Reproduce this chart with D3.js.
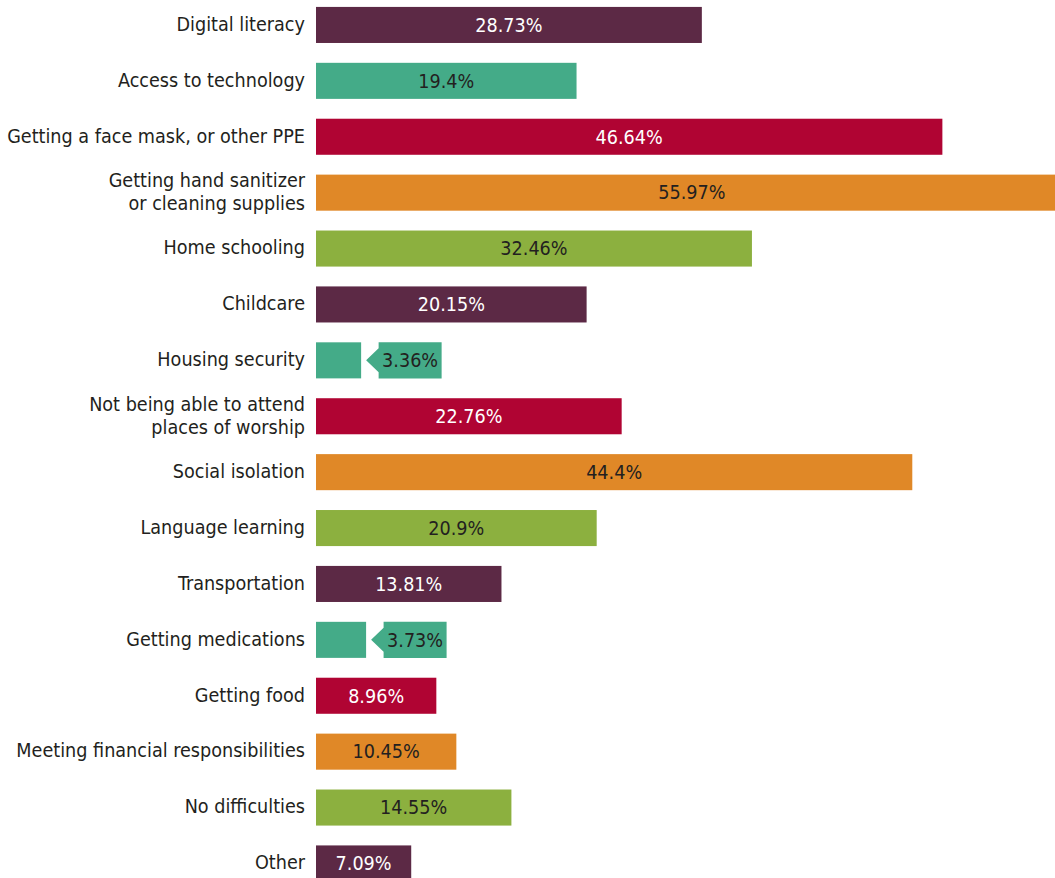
<!DOCTYPE html>
<html>
<head>
<meta charset="utf-8">
<script src="https://cdn.jsdelivr.net/npm/d3@7"></script>
<style>
  body { margin: 0; background: #fff; }
  svg { display: block; font-family: "DejaVu Sans Condensed", "Liberation Sans Narrow", sans-serif; }
</style>
</head>
<body>
<script>
// data
var categories = [
  "Digital literacy",
  "Access to technology",
  "Getting a face mask, or other PPE",
  "Getting hand sanitizer|or cleaning supplies",
  "Home schooling",
  "Childcare",
  "Housing security",
  "Not being able to attend|places of worship",
  "Social isolation",
  "Language learning",
  "Transportation",
  "Getting medications",
  "Getting food",
  "Meeting financial responsibilities",
  "No difficulties",
  "Other"
];
var values = [28.73, 19.4, 46.64, 55.97, 32.46, 20.15, 3.36, 22.76, 44.4, 20.9, 13.81, 3.73, 8.96, 10.45, 14.55, 7.09];
var palette = ["#5c2945", "#44ab88", "#b00433", "#e08827", "#8cb03f"];
var lightText = ["#5c2945", "#b00433"];

var width = 1055, height = 878;
var left = 316;

var svg = d3.select("body").append("svg")
  .attr("width", width).attr("height", height);

var x = d3.scaleLinear().domain([0, 1]).range([left, left + 13.43]);

var y = d3.scaleBand()
  .domain(d3.range(categories.length))
  .range([-3, -3 + 55.9 * categories.length])
  .paddingInner(0.355)
  .paddingOuter(0.1775);

var row = svg.selectAll("g.row")
  .data(values)
  .enter().append("g")
  .attr("class", "row")
  .attr("transform", function (d, i) { return "translate(0," + y(i) + ")"; });

var bh = y.bandwidth();

row.append("rect")
  .attr("x", x(0))
  .attr("width", function (d) { return x(d) - x(0); })
  .attr("height", bh)
  .attr("fill", function (d, i) { return palette[i % palette.length]; });

// category labels
row.append("text")
  .attr("x", 305)
  .attr("text-anchor", "end")
  .attr("fill", "#231f20")
  .style("font-size", "19.6px")
  .style("font-weight", 500)
  .each(function (d, i) {
    var lines = categories[i].split("|");
    var t = d3.select(this);
    var start = bh / 2 - 1 - (lines.length - 1) * 11.5;
    lines.forEach(function (l, k) {
      t.append("tspan")
        .attr("x", 305)
        .attr("y", start + k * 23)
        .attr("dy", "0.35em")
        .text(l);
    });
  });

// value labels, callout for very small bars
row.each(function (d, i) {
  var g = d3.select(this);
  var col = palette[i % palette.length];
  var txtCol = lightText.indexOf(col) >= 0 ? "#fff" : "#231f20";
  var label = d + "%";
  if (d < 5) {
    var tip = x(d) + 5, bx = x(d) + 17.5, bw = 63;
    g.append("path")
      .attr("d", "M" + tip + "," + bh / 2 + "L" + bx + "," + (bh / 2 - 12) + "L" + bx + ",0" +
        "L" + (bx + bw) + ",0L" + (bx + bw) + "," + bh + "L" + bx + "," + bh + "L" + bx + "," + (bh / 2 + 12) + "Z")
      .attr("fill", col);
    g.append("text")
      .attr("x", bx + bw / 2)
      .attr("y", bh / 2)
      .attr("dy", "0.35em")
      .attr("text-anchor", "middle")
      .attr("fill", txtCol)
      .style("font-size", "19.6px")
      .text(label);
  } else {
    g.append("text")
      .attr("x", (x(0) + x(d)) / 2)
      .attr("y", bh / 2)
      .attr("dy", "0.35em")
      .attr("text-anchor", "middle")
      .attr("fill", txtCol)
      .style("font-size", "19.6px")
      .text(label);
  }
});
</script>
</body>
</html>
